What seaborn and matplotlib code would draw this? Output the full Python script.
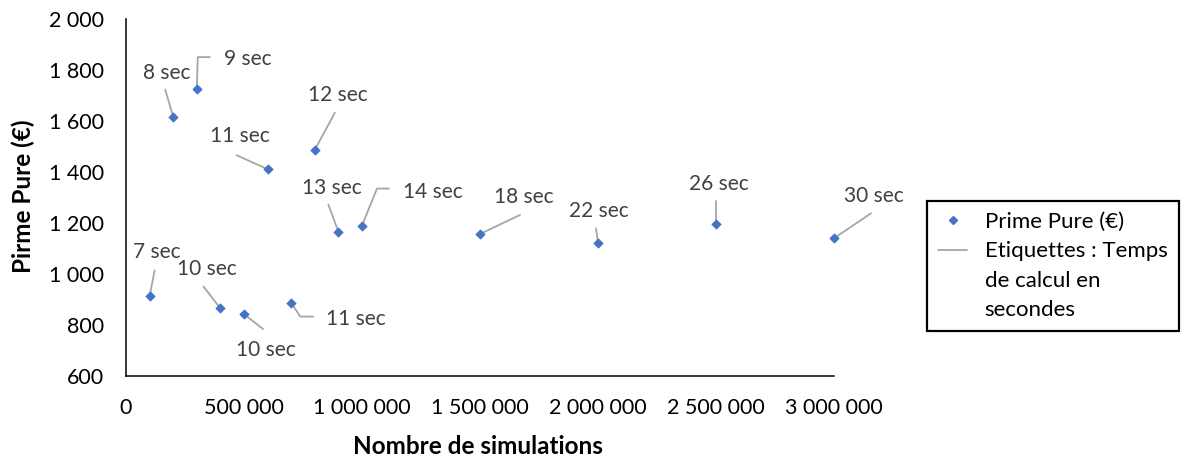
import matplotlib
matplotlib.use("Agg")
import matplotlib.pyplot as plt
import matplotlib.transforms as mtrans
from matplotlib.lines import Line2D
from matplotlib.ticker import FuncFormatter, MultipleLocator
import pandas as pd
import seaborn as sns

# Number of simulations, resulting pure premium and computation time
simulations = [100000, 200000, 300000, 400000, 500000, 600000, 700000,
               800000, 900000, 1000000, 1500000, 2000000, 2500000, 3000000]
prime_pure = [912, 1617, 1725, 865, 843, 1411, 888,
              1487, 1166, 1190, 1157, 1120, 1196, 1140]
temps_sec = [7, 8, 9, 10, 10, 11, 11, 12, 13, 14, 18, 22, 26, 30]

# Label placement: text centre offset (px, right/down) and leader polyline
label_offsets = [(7, -44), (-6, -44), (51, -30), (-14, -39), (22, 36),
                 (-28, -33), (65, 16), (23, -55), (-7, -44), (71, -34),
                 (44, -37), (1, -32), (3, -40), (40, -42)]
leader_paths = [
    [(0, 0), (5, -26)],
    [(0, 0), (-8, -27)],
    [(0, 0), (1, -32), (13, -32)],
    [(0, 0), (-17, -22)],
    [(0, 0), (19, 15)],
    [(0, 0), (-31, -14)],
    [(0, 0), (9, 14), (22, 14)],
    [(0, 0), (20, -37)],
    [(0, 0), (-10, -27)],
    [(0, 0), (15, -37), (27, -37)],
    [(0, 0), (40, -19)],
    [(0, 0), (-2, -15)],
    [(0, 0), (0, -23)],
    [(0, 0), (37, -25)],
]

BLUE = "#4472C4"
LEADER = "#a6a6a6"
LABEL_GREY = "#404040"

sns.set_theme(style="white")
plt.rcParams["font.family"] = ["Lato", "DejaVu Sans"]

df = pd.DataFrame({"simulations": simulations, "prime": prime_pure, "temps": temps_sec})

fig = plt.figure(figsize=(11.84, 4.57), dpi=100)
ax = fig.add_axes([126 / 1184, 1 - 376 / 457, (834 - 126) / 1184, (376 - 19) / 457])

sns.scatterplot(data=df, x="simulations", y="prime", marker="D", s=22,
                color=BLUE, edgecolor=BLUE, linewidth=0.6, ax=ax,
                legend=False, zorder=3, clip_on=False)

ax.set_xlim(0, 3000000)
ax.set_ylim(600, 2000)
ax.xaxis.set_major_locator(MultipleLocator(500000))
ax.yaxis.set_major_locator(MultipleLocator(200))
fmt = FuncFormatter(lambda v, p: f"{v:,.0f}".replace(",", " "))
ax.xaxis.set_major_formatter(fmt)
ax.yaxis.set_major_formatter(fmt)

for side in ("top", "right"):
    ax.spines[side].set_visible(False)
for side in ("left", "bottom"):
    ax.spines[side].set_color("black")
    ax.spines[side].set_linewidth(1.1)

ax.tick_params(axis="both", which="major", direction="out", length=5,
               width=1.1, color="black", labelsize=15.5, labelcolor="black")
ax.tick_params(axis="y", pad=11)
ax.tick_params(axis="x", pad=11)

ax.set_xlabel("Nombre de simulations", fontsize=17.5, fontweight="bold",
              color="black", ha="center", va="center")
ax.set_ylabel("Pirme Pure (€)", fontsize=17.5, fontweight="bold",
              color="black", ha="center", va="center")
ax.xaxis.set_label_coords((478 - 126) / 708, (376 - 446) / 357)
ax.yaxis.set_label_coords((23 - 126) / 708, (376 - 196) / 357)

# Data labels with leader lines, offsets measured in pixels from each point
flip = mtrans.Affine2D().scale(1, -1)
for x, y, t, (dx, dy), path in zip(simulations, prime_pure, temps_sec,
                                   label_offsets, leader_paths):
    tr = flip + mtrans.ScaledTranslation(x, y, ax.transData)
    xs = [p[0] for p in path]
    ys = [p[1] for p in path]
    ax.add_line(Line2D(xs, ys, transform=tr, color=LEADER, lw=1.3,
                       clip_on=False, zorder=2))
    ax.annotate(f"{t} sec", xy=(x, y), xytext=(dx, -dy),
                textcoords="offset pixels", ha="center", va="center",
                fontsize=15, color=LABEL_GREY, annotation_clip=False)

# Legend: the label text wraps over three lines, handle on the first one
blank = Line2D([], [], ls="none")
handles = [
    Line2D([], [], marker="D", ls="none", color=BLUE, markersize=4.5),
    Line2D([], [], color=LEADER, lw=1.3),
    blank,
    blank,
]
labels = ["Prime Pure (€)", "Etiquettes : Temps", "de calcul en", "secondes"]
leg = fig.legend(handles, labels, loc="upper left",
                 bbox_to_anchor=(927 / 1184, 1 - 201 / 457),
                 bbox_transform=fig.transFigure, borderaxespad=0,
                 frameon=True, fancybox=False, edgecolor="black",
                 fontsize=16, handlelength=1.3, handletextpad=0.8,
                 borderpad=0.5, labelspacing=0.42, framealpha=1)
leg.get_frame().set_linewidth(1.6)
for txt in leg.get_texts():
    txt.set_color("black")

fig.savefig("out.png", dpi=100)
